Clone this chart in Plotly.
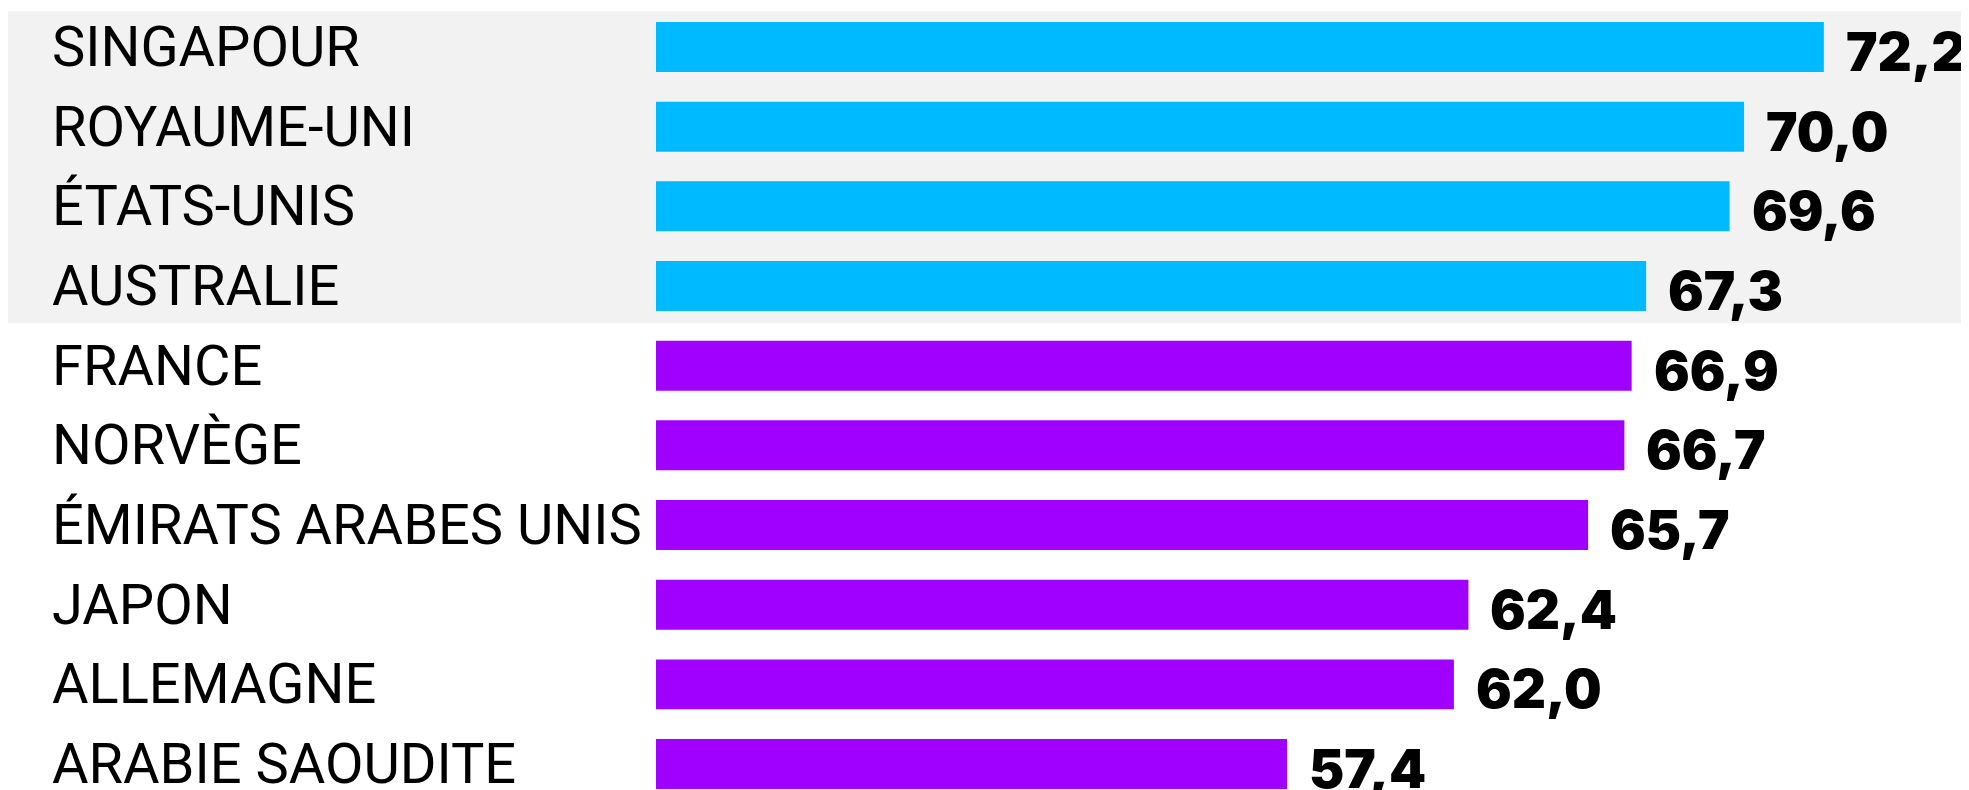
import plotly.graph_objects as go

countries = ["SINGAPOUR", "ROYAUME-UNI", "ÉTATS-UNIS", "AUSTRALIE", "FRANCE",
             "NORVÈGE", "ÉMIRATS ARABES UNIS", "JAPON", "ALLEMAGNE", "ARABIE SAOUDITE"]
values = [72.2, 70.0, 69.6, 67.3, 66.9, 66.7, 65.7, 62.4, 62.0, 57.4]
value_labels = ["72,2", "70,0", "69,6", "67,3", "66,9", "66,7", "65,7", "62,4", "62,0", "57,4"]
highlight_count = 4

CYAN = "#00BAFF"
PURPLE = "#A000FF"
PANEL = "#F2F2F2"

colors = [CYAN if i < highlight_count else PURPLE for i in range(len(countries))]

# page body has an 8px margin, so the figure is sized to fill the rest of the window
W, H = 1961, 782
L, R = 648, 98
plot_w = W - L - R

fig = go.Figure()
fig.add_trace(go.Bar(
    x=values, y=countries, orientation="h",
    marker=dict(color=colors, line=dict(width=0)),
    hoverinfo="skip",
))

annotations = []
label_x = (42 - L) / plot_w
for c, v, t in zip(countries, values, value_labels):
    annotations.append(dict(
        x=label_x, xref="paper", y=c, yref="y", text=c, showarrow=False,
        xanchor="left", yanchor="middle",
        font=dict(family="Roboto", size=56, color="#000000"),
    ))
    annotations.append(dict(
        x=v, xref="x", y=c, yref="y", text=t, showarrow=False,
        xanchor="left", yanchor="middle", xshift=20, yshift=-5,
        font=dict(family="Inter", size=53, color="#000000", weight=900),
    ))

fig.update_layout(
    width=W, height=H,
    margin=dict(l=L, r=R, t=0, b=0),
    paper_bgcolor="white", plot_bgcolor="rgba(0,0,0,0)",
    showlegend=False,
    bargap=0.373,
    xaxis=dict(range=[40, 73.5], visible=False, fixedrange=True),
    yaxis=dict(range=[9.326, -0.4895], visible=False, fixedrange=True,
               categoryorder="array", categoryarray=countries),
    annotations=annotations,
    shapes=[dict(
        type="rect", layer="below", xref="paper", yref="y",
        x0=(0 - L) / plot_w, x1=(W - L) / plot_w,
        y0=-0.452, y1=highlight_count - 0.535,
        fillcolor=PANEL, line=dict(width=0),
    )],
)

fig.write_html("out.html", config={"displayModeBar": False})
